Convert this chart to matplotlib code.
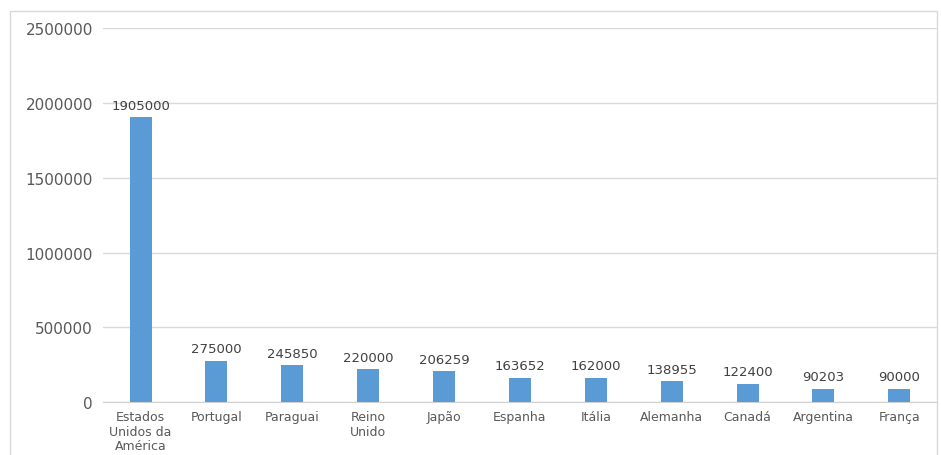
import matplotlib
matplotlib.use("Agg")
import matplotlib.pyplot as plt
from matplotlib.patches import Rectangle

# data
paises = ["Estados\nUnidos da\nAmérica", "Portugal", "Paraguai", "Reino\nUnido", "Japão",
          "Espanha", "Itália", "Alemanha", "Canadá", "Argentina", "França"]
valores = [1905000, 275000, 245850, 220000, 206259, 163652, 162000, 138955, 122400, 90203, 90000]
y_ticks = [0, 500000, 1000000, 1500000, 2000000, 2500000]

bar_color = "#5b9bd5"
text_color = "#595959"

plt.rcParams["font.family"] = ["DejaVu Sans"]

fig = plt.figure(figsize=(9.41, 4.56), dpi=100)
ax = fig.add_axes([0.109, 0.116, 0.887, 0.82])

# outer chart border
fig.patches.append(Rectangle((10 / 941, -0.05), 927 / 941, 1.05 - 12 / 456,
                             transform=fig.transFigure, fill=False,
                             edgecolor="#d9d9d9", linewidth=1))

x = range(len(paises))
bars = ax.bar(x, valores, width=0.29, color=bar_color, zorder=3)

for xi, v in zip(x, valores):
    ax.annotate(str(v), (xi, v), xytext=(0, 4), textcoords="offset points",
                ha="center", va="bottom", fontsize=9.5, color="#404040")

ax.set_xlim(-0.5, len(paises) - 0.5)
ax.set_ylim(0, 2500000)
ax.set_yticks(y_ticks)
ax.set_yticklabels([str(t) for t in y_ticks])
ax.set_xticks(list(x))
ax.set_xticklabels(paises, linespacing=1.15)

ax.tick_params(axis="both", length=0, labelcolor=text_color)
ax.tick_params(axis="y", pad=7, labelsize=11)
ax.tick_params(axis="x", pad=6, labelsize=9)

ax.grid(axis="y", color="#d9d9d9", linewidth=1, zorder=0)
for side in ["top", "right", "left"]:
    ax.spines[side].set_visible(False)
ax.spines["bottom"].set_color("#d0d0d0")

fig.savefig("out.png", dpi=100)
